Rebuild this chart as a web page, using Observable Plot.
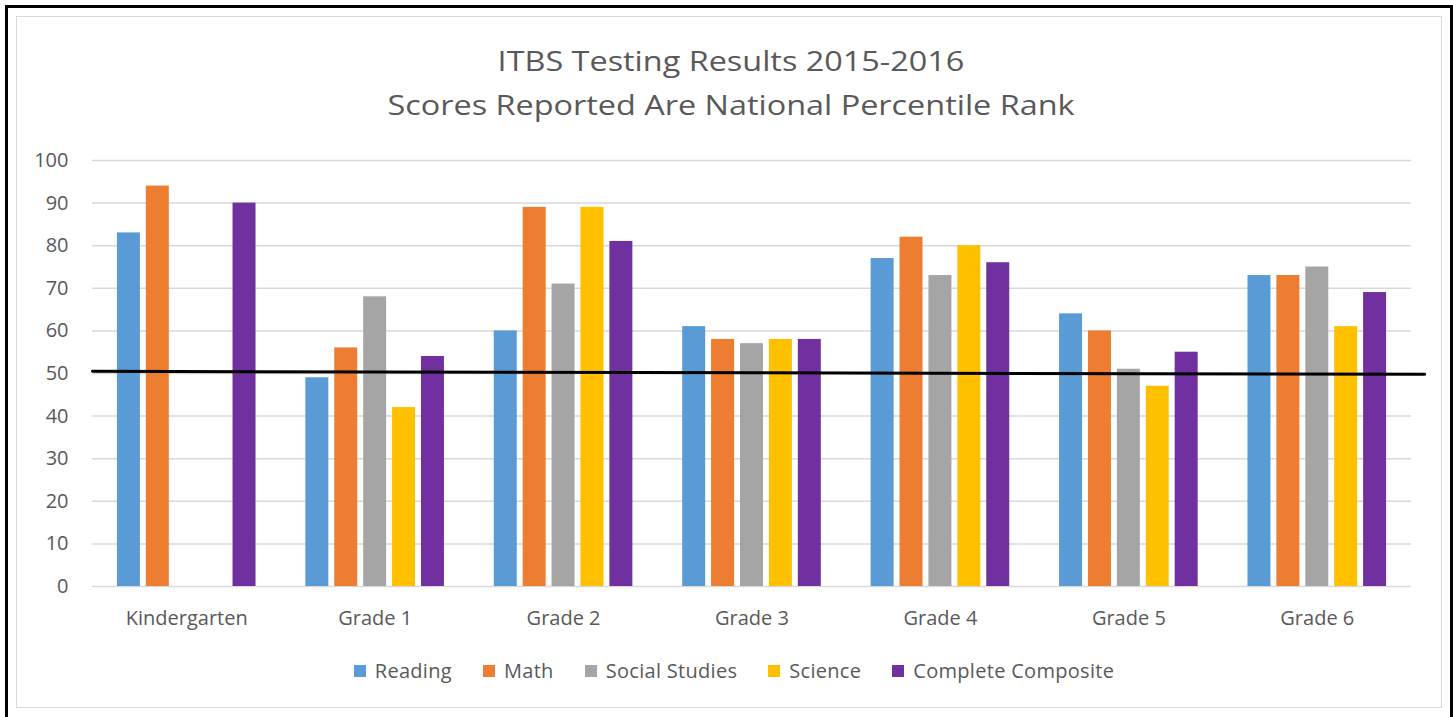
<!DOCTYPE html>
<html><head><meta charset="utf-8">
<script src="https://cdn.jsdelivr.net/npm/d3@7"></script>
<script src="https://cdn.jsdelivr.net/npm/@observablehq/plot@0.6"></script>
<style>
body{margin:0;background:#fff;font-family:"Open Sans",sans-serif;color:#595959;}
#outer{position:absolute;left:5px;top:5px;width:1448px;height:720px;border:3px solid #000;box-sizing:border-box;}
#inner{position:absolute;left:16px;top:16px;width:1426px;height:692px;border:1.5px solid #d9d9d9;box-sizing:border-box;}
#title{position:absolute;left:0;top:39px;width:1462px;text-align:center;font-size:27px;line-height:44px;transform:scaleX(1.2);transform-origin:731px 0;}
#chart{position:absolute;left:0;top:140px;}
#legend{position:absolute;left:0;top:657px;width:1468px;display:flex;justify-content:center;gap:31px;font-size:20px;line-height:28px;letter-spacing:0.3px;}
#legend span.sw{display:inline-block;width:12px;height:12px;margin-right:9px;vertical-align:1px;}
</style>
</head><body>
<div id="outer"></div>
<div id="inner"></div>
<div id="title">ITBS Testing Results 2015-2016<br>Scores Reported Are National Percentile Rank</div>
<div id="chart"></div>
<div id="legend"></div>
<script>
const categories = ["Kindergarten","Grade 1","Grade 2","Grade 3","Grade 4","Grade 5","Grade 6"];
const seriesNames = ["Reading","Math","Social Studies","Science","Complete Composite"];
const seriesColors = ["#5B9BD5","#ED7D31","#A5A5A5","#FFC000","#7030A0"];
const reading   = [83, 49, 60, 61, 77, 64, 73];
const math      = [94, 56, 89, 58, 82, 60, 73];
const social    = [null, 68, 71, 57, 73, 51, 75];
const science   = [null, 42, 89, 58, 80, 47, 61];
const composite = [90, 54, 81, 58, 76, 55, 69];
const yTicks = [0,10,20,30,40,50,60,70,80,90,100];
// hand-drawn "national average" line endpoints (category units, percentile)
const avgLineX = [0, 7.07];
const avgLineY = [50.5, 49.8];

const seriesValues = [reading, math, social, science, composite];
const rows = [];
categories.forEach((c, i) => {
  seriesValues.forEach((vals, j) => {
    if (vals[i] != null) rows.push({cat: c, i, j, series: seriesNames[j], value: vals[i]});
  });
});
const avgLine = avgLineX.map((x, k) => ({x, y: avgLineY[k]}));

const pitch = 0.1534, bw = 0.122, start = 0.5 - (4 * pitch + bw) / 2;

const chart = Plot.plot({
  width: 1453,
  height: 520,
  marginTop: 20,
  marginBottom: 74,
  marginLeft: 92,
  marginRight: 42,
  style: {fontFamily: '"Open Sans", sans-serif', fontSize: "20px", color: "#595959", background: "transparent"},
  x: {domain: [0, 7], axis: null},
  y: {domain: [0, 100], axis: null},
  color: {domain: seriesNames, range: seriesColors},
  marks: [
    Plot.ruleY(yTicks, {stroke: "#d9d9d9", strokeWidth: 1.5}),
    Plot.rectY(rows, {
      x1: d => d.i + start + d.j * pitch,
      x2: d => d.i + start + d.j * pitch + bw,
      y1: 0, y2: "value", fill: "series"
    }),
    Plot.axisY({ticks: yTicks, tickSize: 0, tickPadding: 24, fontSize: 20, fill: "#595959", label: null}),
    Plot.axisX({ticks: categories.map((c, i) => i + 0.5), tickFormat: d => categories[Math.floor(d)], tickSize: 0, tickPadding: 24, fontSize: 20, fill: "#595959", label: null, style: {letterSpacing: "0.4px"}}),
    Plot.line(avgLine, {x: "x", y: "y", stroke: "#000", strokeWidth: 3})
  ]
});
document.getElementById("chart").appendChild(chart);

const legend = document.getElementById("legend");
seriesNames.forEach((n, j) => {
  const item = document.createElement("div");
  item.innerHTML = `<span class="sw" style="background:${seriesColors[j]}"></span>${n}`;
  legend.appendChild(item);
});
</script>
</body></html>
